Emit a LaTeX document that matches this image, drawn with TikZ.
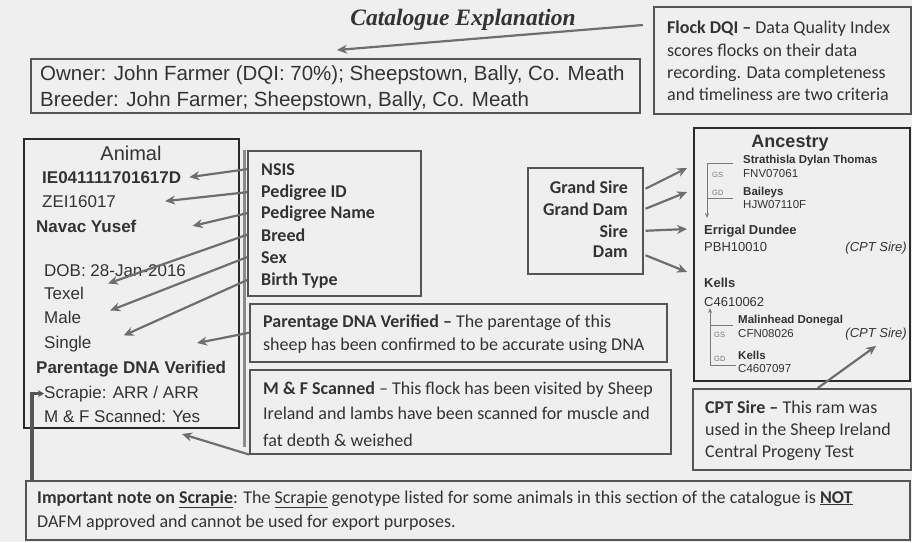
\documentclass[tikz,border=0pt]{standalone}
\usepackage{fontspec}
\setmainfont{Liberation Sans}
\newfontfamily\calfont{Carlito}
\newfontfamily\ttlfont{Liberation Serif}
\usetikzlibrary{arrows.meta,calc}
\definecolor{bg}{HTML}{EFEFEF}
\definecolor{txt}{HTML}{333333}
\definecolor{bord}{HTML}{555555}
\definecolor{dbord}{HTML}{2A2A2A}
\definecolor{arr}{HTML}{6E6E6E}
\definecolor{lab}{HTML}{7A7A7A}
\newcommand\szO{\fontsize{20.5}{24}\selectfont}
\newcommand\szA{\fontsize{17}{20}\selectfont}
\newcommand\szHd{\fontsize{20}{24}\selectfont}
\newcommand\szC{\calfont\fontsize{18}{22}\selectfont}
\newcommand\szN{\calfont\fontsize{18}{22}\selectfont}
\newcommand\szAH{\fontsize{18}{22}\selectfont}
\newcommand\szS{\fontsize{11.5}{14}\selectfont}
\newcommand\szM{\fontsize{13}{16}\selectfont}
\newcommand\szT{\fontsize{7.5}{9}\selectfont}
\begin{document}
\begin{tikzpicture}[x=1pt,y=-1pt,
  box/.style={draw=bord, line width=1.5pt, inner sep=0pt, anchor=north west, fill=bg},
  t/.style={anchor=base west, inner sep=0pt, text=txt},
  te/.style={anchor=base east, inner sep=0pt, text=txt},
  ar/.style={draw=arr, line width=2.2pt, -{Stealth[length=10pt,width=9pt]}},
  br/.style={draw=lab, line width=0.8pt},
  brar/.style={br, -{Stealth[length=5pt,width=4pt]}},
  scr/.style={draw=bord, line width=3.5pt, -{Stealth[length=6pt,width=7pt]}}]
\fill[bg] (0,0) rectangle (912,542);
\useasboundingbox (0,0) rectangle (912,542);

% title
\node[anchor=base, inner sep=0pt, text=txt, font=\ttlfont\bfseries\itshape\fontsize{23.5}{26}\selectfont] (title) at (463,25) {Catalogue Explanation};

% shadow bar
\draw[draw=arr!80, line width=3pt] (244,150) -- (244,447);

% boxes
\node[box, minimum width=609pt, minimum height=54pt] (owner) at (30,58) {};
\node[box, minimum width=257pt, minimum height=107pt] (flock) at (653,6) {};
\node[box, draw=dbord, line width=1.8pt, minimum width=215pt, minimum height=289pt] (animal) at (23,138) {};
\node[box, minimum width=173pt, minimum height=145pt] (attr) at (247,150) {};
\node[box, minimum width=417pt, minimum height=58pt] (pbox) at (249,303) {};
\node[box, minimum width=421pt, minimum height=84pt] (mfbox) at (249,369) {};
\node[box, minimum width=115pt, minimum height=106pt] (grand) at (527,167) {};
\node[box, draw=dbord, line width=2pt, minimum width=216pt, minimum height=253pt] (anc) at (693,127) {};
\node[box, minimum width=218pt, minimum height=81pt] (cptbox) at (692,388) {};
\node[box, line width=2pt, minimum width=884pt, minimum height=59pt] (note) at (25,480) {};

% owner
\node[t, font=\szO] (own) at (40,80) {Owner: John Farmer (DQI: 70\%); Sheepstown, Bally, Co. Meath};
\node[t, font=\szO] (brd) at (40,106) {Breeder: John Farmer; Sheepstown, Bally, Co. Meath};

% flock DQI
\node[t, font=\szC] (fl1) at (667,33) {{\bfseries Flock DQI –} Data Quality Index};
\node[t, font=\szC] (fl2) at (667,56) {scores flocks on their data};
\node[t, font=\szC] (fl3) at (667,78) {recording. Data completeness};
\node[t, font=\szC] (fl4) at (667,100) {and timeliness are two criteria};

% animal
\node[anchor=base, inner sep=0pt, text=txt, font=\szHd] (animalh) at (131,160) {Animal};
\node[t, font=\szA\bfseries] (ie) at (42,183) {IE041111701617D};
\node[t, font=\szA] (zei) at (42,207) {ZEI16017};
\node[t, font=\szA\bfseries] (navac) at (36,232) {Navac Yusef};
\node[t, font=\szA] (dob) at (44,276) {DOB: 28-Jan-2016};
\node[t, font=\szA] (texel) at (44,299) {Texel};
\node[t, font=\szA] (male) at (44,323) {Male};
\node[t, font=\szA] (single) at (44,348) {Single};
\node[t, font=\szA\bfseries] (pdv) at (36,373) {Parentage DNA Verified};
\node[t, font=\szA] (scrapie) at (44,398) {Scrapie: ARR / ARR};
\node[t, font=\szA] (mfs) at (44,422) {M \& F Scanned: Yes};

% attributes
\node[t, font=\szC\bfseries] (nsis) at (261,175) {NSIS};
\node[t, font=\szC\bfseries] (pid) at (261,197) {Pedigree ID};
\node[t, font=\szC\bfseries] (pname) at (261,218) {Pedigree Name};
\node[t, font=\szC\bfseries] (breed) at (261,241) {Breed};
\node[t, font=\szC\bfseries] (sex) at (261,263) {Sex};
\node[t, font=\szC\bfseries] (btype) at (261,285) {Birth Type};

% parentage / M&F
\node[t, font=\szC] (p1) at (263,327) {{\bfseries Parentage DNA Verified –} The parentage of this};
\node[t, font=\szC] (p2) at (263,350) {sheep has been confirmed to be accurate using DNA};
\node[t, font=\szC] (m1) at (263,394) {{\bfseries M \& F Scanned} – This flock has been visited by Sheep};
\node[t, font=\szC] (m2) at (263,419) {Ireland and lambs have been scanned for muscle and};
\begin{scope}
\clip (250,430) rectangle (668,445);
\node[t, font=\szC] (m3) at (263,446) {fat depth \& weighed};
\end{scope}

% grand box
\node[te, font=\szC\bfseries] (gsire) at (628,193) {Grand Sire};
\node[te, font=\szC\bfseries] (gdam) at (628,215) {Grand Dam};
\node[te, font=\szC\bfseries] (sire) at (628,237) {Sire};
\node[te, font=\szC\bfseries] (dam) at (628,257) {Dam};

% ancestry
\node[anchor=base, inner sep=0pt, text=txt, font=\szAH\bfseries] (anch) at (790,147) {Ancestry};
\node[t, font=\szS\bfseries] (strath) at (743,163) {Strathisla Dylan Thomas};
\node[t, font=\szS] (fnv) at (743,177) {FNV07061};
\node[t, font=\szS\bfseries] (baileys) at (743,195) {Baileys};
\node[t, font=\szS] (hjw) at (743,208) {HJW07110F};
\node[t, font=\szM\bfseries] (errigal) at (704,234) {Errigal Dundee};
\node[t, font=\szM] (pbh) at (704,251) {PBH10010};
\node[te, font=\szM\itshape] (cpt1) at (907,251) {(CPT Sire)};
\node[t, font=\szM\bfseries] (kells1) at (704,287) {Kells};
\node[t, font=\szM] (c461) at (704,306) {C4610062};
\node[t, font=\szS\bfseries] (malin) at (738,323) {Malinhead Donegal};
\node[t, font=\szS] (cfn) at (738,337) {CFN08026};
\node[te, font=\szM\itshape] (cpt2) at (907,337) {(CPT Sire)};
\node[t, font=\szS\bfseries] (kells2) at (738,359) {Kells};
\node[t, font=\szS] (c460) at (738,372) {C4607097};
\node[t, font=\szT, text=lab] (gs1) at (712,177) {GS};
\node[t, font=\szT, text=lab] (gd1) at (712,195) {GD};
\node[t, font=\szT, text=lab] (gs2) at (714,337) {GS};
\node[t, font=\szT, text=lab] (gd2) at (714,361) {GD};
\draw[brar] (733,163) -- (707,163) -- (707,218);
\draw[br] (707,198) -- (733,198);
\draw[brar] (736,365) -- (710,365) -- (710,308);
\draw[br] (710,325) -- (733,325);

% CPT box
\node[t, font=\szC] (c1) at (705,413) {{\bfseries CPT Sire –} This ram was};
\node[t, font=\szC] (c2) at (705,435) {used in the Sheep Ireland};
\node[t, font=\szC] (c3) at (705,457) {Central Progeny Test};

% note
\node[t, font=\szN] (n1) at (37,503) {{\bfseries Important note on \underline{Scrapie}}: The \underline{Scrapie} genotype listed for some animals in this section of the catalogue is {\bfseries\underline{NOT}}};
\node[t, font=\szN] (n2) at (37,527) {DAFM approved and cannot be used for export purposes.};

% connectors
\draw[ar] ($(flock.north west)+(-10,19)$) -- ($(owner.north west)+(307,-8)$);
\draw[ar] (attr.west |- nsis.west) -- ([xshift=8pt]ie.east);
\draw[ar] (attr.west |- pid.west) -- ([xshift=49pt]zei.east);
\draw[ar] (attr.west |- pname.west) -- ([xshift=56pt]navac.east);
\draw[ar] (attr.west |- breed.west) -- ([shift={(24pt,3pt)}]texel.north east);
\draw[ar] (attr.west |- sex.west) -- ([xshift=29pt]male.north east);
\draw[ar] (attr.west |- btype.west) -- ([xshift=32pt]single.north east);
\coordinate (pdvtip) at (197,343);
\draw[ar] (pbox.west) -- (pdvtip);
\coordinate (mftip) at (182,434);
\draw[ar] (mfbox.south west) -- (mftip);
\draw[scr] ([xshift=7pt]note.north west) |- (scrapie.west);
\draw[ar] ($(gsire.west -| grand.east)+(2,2)$) -- ($(anc.north west)+(-6,41)$);
\draw[ar] ($(gdam.west -| grand.east)+(2,0)$) -- ($(anc.north west)+(-6,65)$);
\draw[ar] ($(sire.west -| grand.east)+(2,0)$) -- ($(anc.north west)+(-6,102)$);
\draw[ar] ($(dam.west -| grand.east)+(2,4)$) -- ($(anc.north west)+(-6,145)$);
\draw[ar] ([xshift=16pt]cptbox.north) -- ([yshift=-6pt]cpt2.south);
\end{tikzpicture}
\end{document}
